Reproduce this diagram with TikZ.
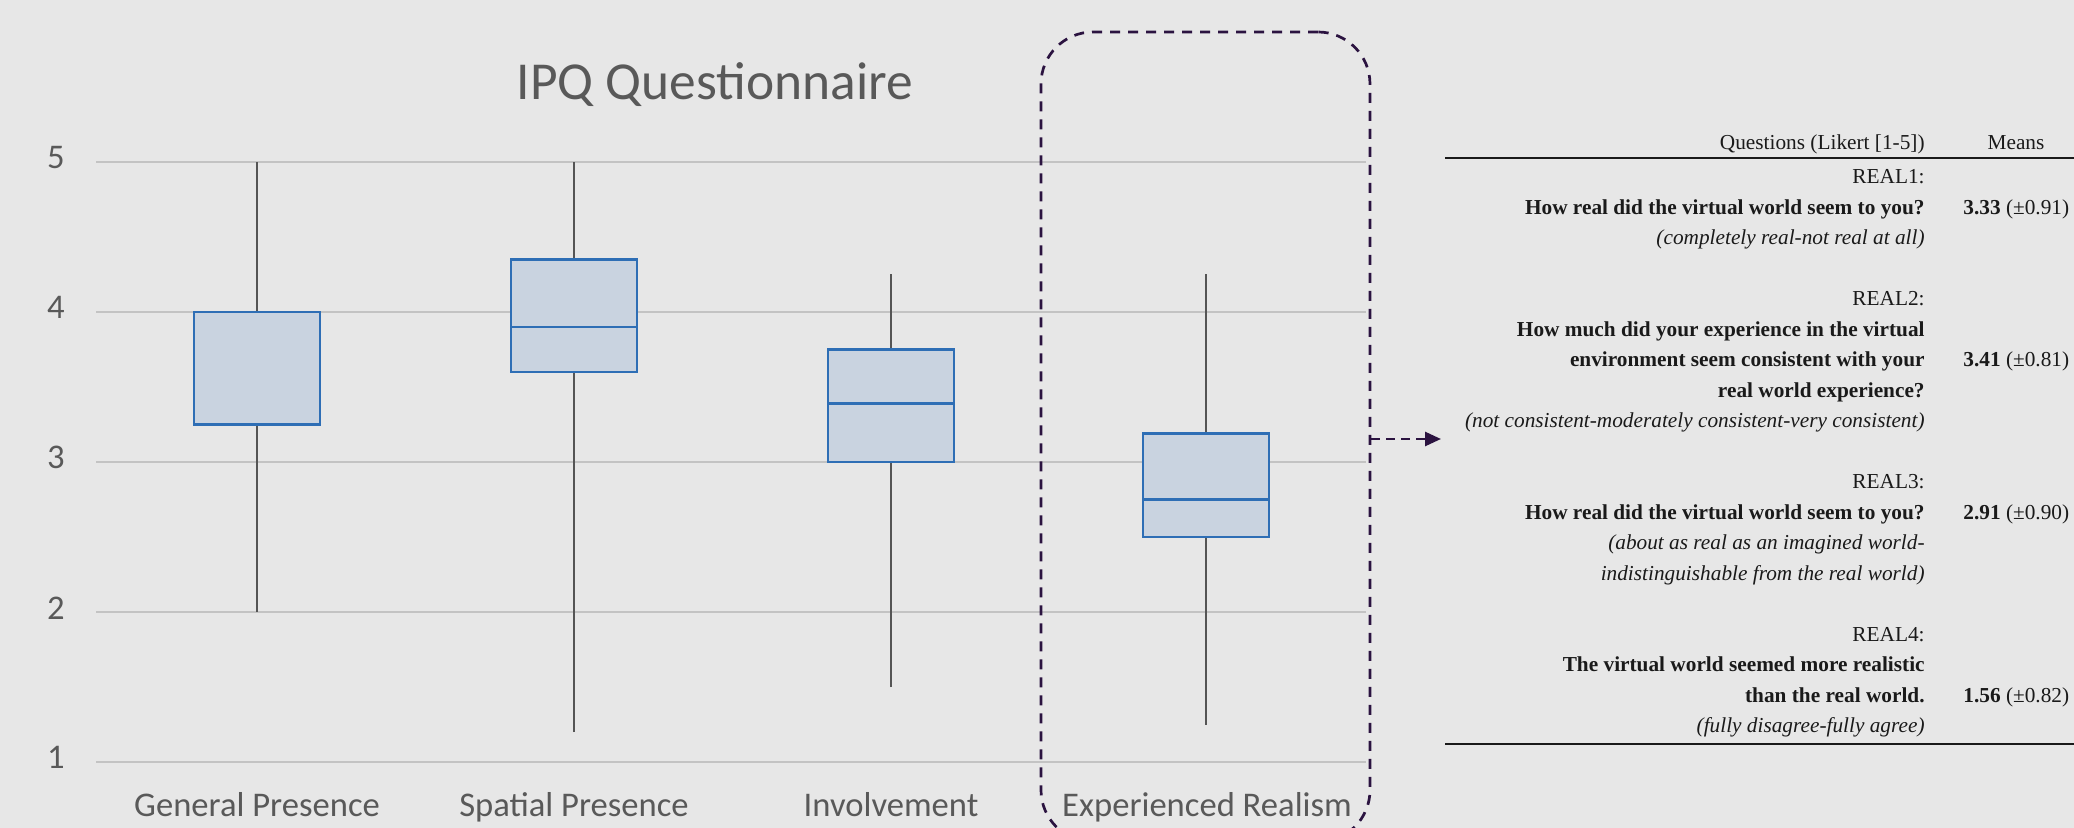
\documentclass[tikz,border=0pt]{standalone}
\usepackage{fontspec}
\newfontfamily\chartfont{Carlito}
\newfontfamily\tabfont{Liberation Serif}
\usetikzlibrary{arrows.meta}
\definecolor{bg}{HTML}{E7E7E7}
\definecolor{gridc}{HTML}{C3C3C3}
\definecolor{boxfill}{HTML}{C9D3E0}
\definecolor{boxline}{HTML}{2E6EB5}
\definecolor{whisk}{HTML}{555555}
\definecolor{labc}{HTML}{595959}
\definecolor{focusc}{HTML}{2B1340}
\definecolor{tabc}{HTML}{1A1A1A}
\newcommand\bxplot[8]{% name, x, min, q1, med, q3, max, whisker width
  \pgfmathsetmacro\ymin{162+(5-#3)*150}
  \pgfmathsetmacro\yqa{162+(5-#4)*150}
  \pgfmathsetmacro\ymed{162+(5-#5)*150}
  \pgfmathsetmacro\yqc{162+(5-#6)*150}
  \pgfmathsetmacro\ymax{162+(5-#7)*150}
  \draw[whisker, line width=#8] (#2,\ymin) -- (#2,\ymax);
  \draw[boxst] (#2-63,\yqc) rectangle (#2+63,\yqa);
  \draw[boxst] (#2-63,\ymed) -- (#2+63,\ymed);
  \coordinate (#1) at (#2,\ymed);
}
\tikzset{
  gridline/.style={draw=gridc, line width=1.3pt},
  whisker/.style={draw=whisk, line width=1.2pt},
  boxst/.style={draw=boxline, fill=boxfill, line width=1.4pt},
  ylab/.style={text=labc, font=\chartfont\fontsize{17.3pt}{20pt}\selectfont, anchor=base, inner sep=0pt},
  catlab/.style={text=labc, font=\chartfont\fontsize{17.3pt}{20pt}\selectfont, anchor=base, inner sep=0pt},
  titlest/.style={text=labc, font=\chartfont\fontsize{26.7pt}{30pt}\selectfont, anchor=base, inner sep=0pt},
  focus/.style={draw=focusc, line width=1.35pt, dash pattern=on 5pt off 4pt, rounded corners=26pt, inner sep=0pt},
  focusarrow/.style={draw=focusc, line width=1.35pt, dash pattern=on 4.5pt off 3pt, -{Triangle[length=8pt,width=7pt]}},
  rule/.style={draw=tabc, line width=1pt},
  tq/.style={text=tabc, font=\tabfont\fontsize{10.65pt}{12pt}\selectfont, anchor=base east, inner sep=0pt},
  tv/.style={text=tabc, font=\tabfont\fontsize{10.65pt}{12pt}\selectfont, anchor=base west, inner sep=0pt},
}
\begin{document}
\begin{tikzpicture}[x=0.5pt,y=-0.5pt]
\useasboundingbox (0,0) rectangle (2074,828);
\fill[bg] (0,0) rectangle (2074,828);
\begin{scope}
\clip (0,0) rectangle (2074,828);
% title
\node[titlest] (title) at (715,100) {IPQ Questionnaire};
% gridlines and y labels
\foreach \v in {1,...,5}{
  \pgfmathsetmacro\yy{162+(5-\v)*150}
  \draw[gridline] (96,\yy) -- (1366,\yy);
  \node[ylab] (ylab\v) at (56,\yy+7) {\v};
}
% box plots
\bxplot{gp}{257}{2}{3.25}{4}{4}{5}{1.2pt}
\bxplot{sp}{574}{1.2}{3.6}{3.9}{4.35}{5}{1.2pt}
\bxplot{inv}{891}{1.5}{3.0}{3.39}{3.75}{4.25}{0.8pt}
\bxplot{er}{1206}{1.25}{2.5}{2.75}{3.19}{4.25}{1.3pt}
% category labels
\node[catlab] (cgp) at (257,816) {General Presence};
\node[catlab] (csp) at (574,816) {Spatial Presence};
\node[catlab] (cinv) at (891,816) {Involvement};
\node[catlab] (cer) at (1207,816) {Experienced Realism};
% focus frame
\node[focus, minimum width=164.5pt, minimum height=405pt] (focus) at (1205.5,437) {};
\coordinate (tbl) at (1441,439);
\draw[focusarrow] (focus.east |- tbl) -- (tbl);
% table
\draw[rule] (1445,158) -- (2080,158);
\draw[rule] (1445,744) -- (2080,744);
\node[tq] (hq) at (1925,150) {Questions (Likert [1-5])};
\node[tq, anchor=base] (hm) at (2016,150) {Means};
\node[tq] (r1a) at (1925,184) {REAL1:};
\node[tq] (r1b) at (1925,214.5) {\bfseries How real did the virtual world seem to you?};
\node[tv] (v1) at (1963,214.5) {\textbf{3.33} (±0.91)};
\node[tq] (r1c) at (1925,245) {\itshape (completely real-not real at all)};
\node[tq] (r2a) at (1925,306) {REAL2:};
\node[tq] (r2b) at (1925,336.5) {\bfseries How much did your experience in the virtual};
\node[tq] (r2c) at (1925,367) {\bfseries environment seem consistent with your};
\node[tv] (v2) at (1963,367) {\textbf{3.41} (±0.81)};
\node[tq] (r2d) at (1925,397.5) {\bfseries real world experience?};
\node[tq] (r2e) at (1925,428) {\itshape (not consistent-moderately consistent-very consistent)};
\node[tq] (r3a) at (1925,489) {REAL3:};
\node[tq] (r3b) at (1925,519.5) {\bfseries How real did the virtual world seem to you?};
\node[tv] (v3) at (1963,519.5) {\textbf{2.91} (±0.90)};
\node[tq] (r3c) at (1925,550) {\itshape (about as real as an imagined world-};
\node[tq] (r3d) at (1925,580.5) {\itshape indistinguishable from the real world)};
\node[tq] (r4a) at (1925,641.5) {REAL4:};
\node[tq] (r4b) at (1925,672) {\bfseries The virtual world seemed more realistic};
\node[tq] (r4c) at (1925,702.5) {\bfseries than the real world.};
\node[tv] (v4) at (1963,702.5) {\textbf{1.56} (±0.82)};
\node[tq] (r4d) at (1925,733) {\itshape (fully disagree-fully agree)};
\end{scope}
\end{tikzpicture}
\end{document}
